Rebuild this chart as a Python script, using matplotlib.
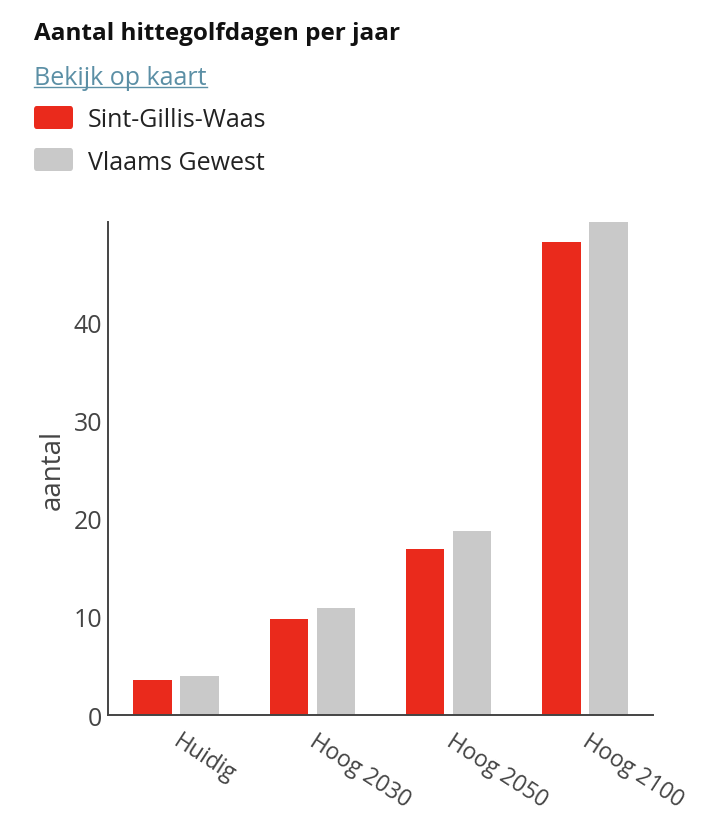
import matplotlib
matplotlib.use("Agg")
import matplotlib.pyplot as plt
import matplotlib.patches as mpatches
import numpy as np

plt.rcParams['font.family'] = ['Open Sans', 'DejaVu Sans']

categories = ["Huidig", "Hoog 2030", "Hoog 2050", "Hoog 2100"]
sint_gillis = [3.6, 9.8, 16.9, 48.3]
vlaams_gewest = [4.0, 10.9, 18.8, 50.3]
series_names = ["Sint-Gillis-Waas", "Vlaams Gewest"]
y_ticks = [0, 10, 20, 30, 40]

RED = "#ea2a1c"
GREY = "#c9c9c9"
TEXT = "#444444"
LINK = "#5b8fa5"

W, H = 710, 829
fig = plt.figure(figsize=(W / 100, H / 100), dpi=100)
ax = fig.add_axes([108 / W, 1 - 716 / H, 545 / W, 493 / H])

x = np.arange(len(categories))
w = 0.283
off = 0.1725
ax.bar(x - off, sint_gillis, width=w, color=RED, zorder=2)
ax.bar(x + off, vlaams_gewest, width=w, color=GREY, zorder=2)

ax.set_xlim(-0.5, len(categories) - 0.5)
ax.set_ylim(0, max(vlaams_gewest))
ax.set_yticks(y_ticks)
ax.set_yticklabels([str(t) for t in y_ticks])
ax.set_xticks(x)
ax.set_xticklabels([])
for xi, lab in zip(x, categories):
    ax.annotate(lab, xy=(xi, 0), xycoords=('data', 'axes fraction'),
                xytext=(4.3, -10), textcoords='offset points',
                rotation=-33, rotation_mode='anchor', ha='left', va='top',
                fontsize=16.5, color=TEXT)

for s in ['top', 'right']:
    ax.spines[s].set_visible(False)
for s in ['left', 'bottom']:
    ax.spines[s].set_color(TEXT)
    ax.spines[s].set_linewidth(1.4)
ax.tick_params(axis='both', length=0, labelsize=18, colors=TEXT, pad=4)
ax.set_ylabel("aantal", fontsize=20, color=TEXT, labelpad=5)

# header, link and legend
fig.text(34 / W, 1 - 40 / H, "Aantal hittegolfdagen per jaar",
         fontsize=17.5, fontweight='bold', color="#111111", va='baseline')
link = fig.text(34 / W, 1 - 85 / H, "Bekijk op kaart",
                fontsize=18, color=LINK, va='baseline')

for i, (name, col) in enumerate(zip(series_names, [RED, GREY])):
    top = 107 + i * 42
    fig.add_artist(mpatches.FancyBboxPatch(
        (34 / W, 1 - (top + 23) / H), 39 / W, 23 / H,
        boxstyle="round,pad=0,rounding_size=0.004", transform=fig.transFigure,
        color=col, lw=0))
    fig.text(88 / W, 1 - (127 + i * 42.5) / H, name, fontsize=18,
             color="#222222", va='baseline')

# underline the link across its rendered width
fig.canvas.draw()
bb = link.get_window_extent(renderer=fig.canvas.get_renderer())
fig.add_artist(plt.Line2D([bb.x0 / W, bb.x1 / W], [1 - 88 / H, 1 - 88 / H],
                          color=LINK, lw=1))

fig.savefig("out.png", dpi=100)
